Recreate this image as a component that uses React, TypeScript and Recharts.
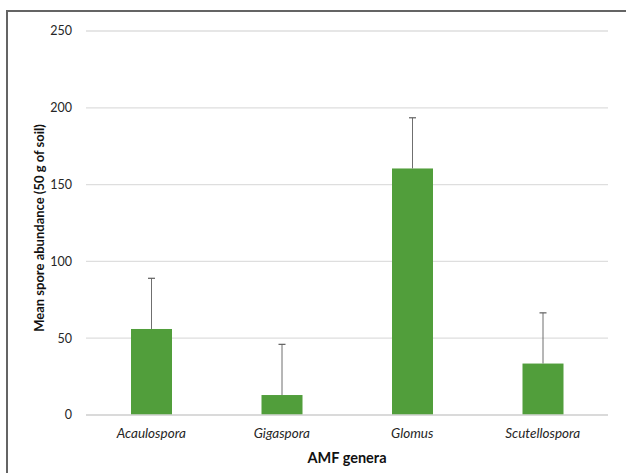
import { BarChart, Bar, XAxis, YAxis, CartesianGrid } from "recharts"

const genera = ["Acaulospora", "Gigaspora", "Glomus", "Scutellospora"]
const meanAbundance = [56, 13, 160.5, 33.5]
const errorUp = [33, 33, 33, 33]
const yTicks = [0, 50, 100, 150, 200, 250]

const data = genera.map((g, i) => ({ genus: g, mean: meanAbundance[i], err: errorUp[i] }))

const font = "Lato, 'Open Sans', sans-serif"

// bar plus a one-sided (upward) error whisker, scaled from the bar's own pixel height
function BarWithError(props: any) {
  const { x, y, width, height, payload, fill } = props
  const pxPerUnit = payload.mean ? height / payload.mean : 0
  const cx = x + width / 2
  const top = y - payload.err * pxPerUnit
  return (
    <g>
      <rect x={x} y={y} width={width} height={height} fill={fill} />
      <line x1={cx} y1={y} x2={cx} y2={top} stroke="#6f6f6f" strokeWidth={1} />
      <line x1={cx - 3.5} y1={top} x2={cx + 3.5} y2={top} stroke="#5f5f5f" strokeWidth={1.2} />
    </g>
  )
}

export default function App() {
  return (
    <div style={{ position: "absolute", left: 0, top: 0, width: 626, height: 473, overflow: "hidden", background: "#fff" }}>
      <div
        style={{
          position: "absolute",
          left: 6,
          top: 10,
          width: 700,
          height: 520,
          border: "2px solid #646464",
        }}
      />
      <div style={{ position: "absolute", left: 0, top: 0 }}>
        <BarChart width={626} height={473} data={data} margin={{ top: 31, right: 18, bottom: 28, left: 0 }}>
          <CartesianGrid vertical={false} stroke="#dedede" strokeWidth={1.3} />
          <XAxis
            dataKey="genus"
            height={30}
            axisLine={{ stroke: "#d6d6d6", strokeWidth: 1.5 }}
            tickLine={false}
            tickMargin={7}
            tick={{ fill: "#262626", fontSize: 13.5, fontStyle: "italic", fontFamily: font }}
            label={{
              value: "AMF genera",
              position: "insideBottom",
              offset: -18,
              fill: "#111",
              fontSize: 14.5,
              fontWeight: "bold",
              fontFamily: font,
            }}
          />
          <YAxis
            width={86}
            domain={[0, 250]}
            ticks={yTicks}
            axisLine={false}
            tickLine={false}
            tickMargin={8}
            tick={{ fill: "#262626", fontSize: 12.5, fontFamily: font }}
            label={{
              value: "Mean spore abundance (50 g of soil)",
              angle: -90,
              position: "center",
              dx: -4,
              dy: 5,
              fill: "#111",
              fontSize: 13,
              fontWeight: "bold",
              fontFamily: font,
            }}
          />
          <Bar dataKey="mean" fill="#519e3b" barSize={41} shape={<BarWithError />} isAnimationActive={false} />
        </BarChart>
      </div>
    </div>
  )
}
